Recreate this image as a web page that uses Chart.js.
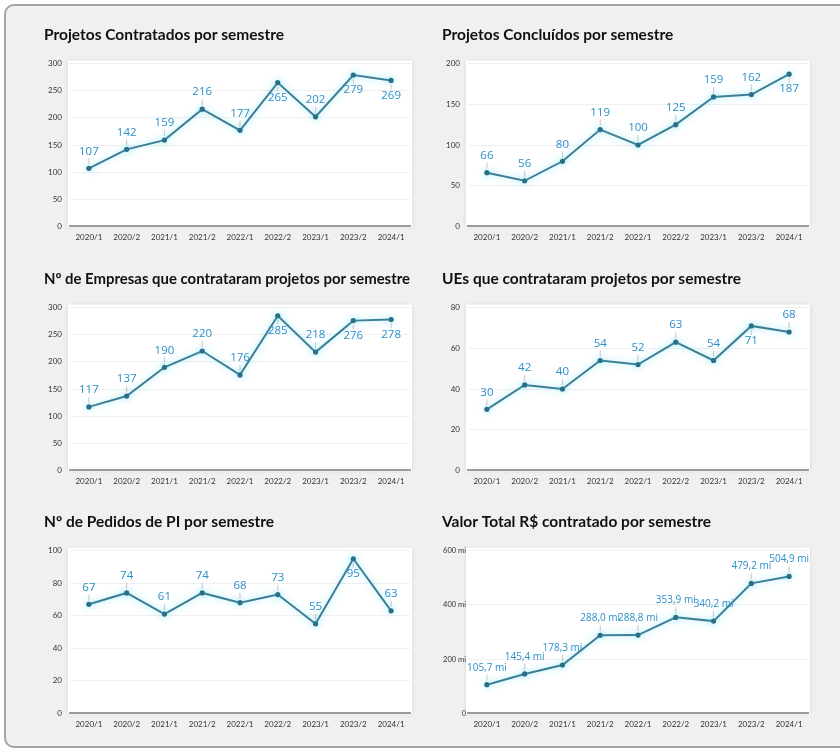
<!DOCTYPE html>
<html>
<head>
<meta charset="utf-8">
<script src="https://cdn.jsdelivr.net/npm/chart.js@4.4.0/dist/chart.umd.min.js"></script>
<style>
  body { margin: 0; background: #fff; width: 840px; height: 751px; overflow: hidden; }
  #panel { position: absolute; left: 4px; top: 4px; width: 860px; height: 740px; border: 2px solid #a3a3a3; border-radius: 10px; background: #f0f0f0; }
  .box { position: absolute; width: 385px; height: 236px; }
</style>
</head>
<body>
<div id="panel"></div>
<div class="box" style="left:40px;top:15px"><canvas id="c1" width="385" height="236"></canvas></div>
<div class="box" style="left:438px;top:15px"><canvas id="c2" width="385" height="236"></canvas></div>
<div class="box" style="left:40px;top:259px"><canvas id="c3" width="385" height="236"></canvas></div>
<div class="box" style="left:438px;top:259px"><canvas id="c4" width="385" height="236"></canvas></div>
<div class="box" style="left:40px;top:502px"><canvas id="c5" width="385" height="236"></canvas></div>
<div class="box" style="left:438px;top:502px"><canvas id="c6" width="385" height="236"></canvas></div>
<script>
const semesters = ['2020/1', '2020/2', '2021/1', '2021/2', '2022/1', '2022/2', '2023/1', '2023/2', '2024/1'];

const projetosContratados = [107, 142, 159, 216, 177, 265, 202, 279, 269];
const projetosConcluidos = [66, 56, 80, 119, 100, 125, 159, 162, 187];
const empresasContratantes = [117, 137, 190, 220, 176, 285, 218, 276, 278];
const uesContratantes = [30, 42, 40, 54, 52, 63, 54, 71, 68];
const pedidosPI = [67, 74, 61, 74, 68, 73, 55, 95, 63];
const valorTotalMi = [105.7, 145.4, 178.3, 288.0, 288.8, 353.9, 340.2, 479.2, 504.9];

Chart.defaults.font.family = 'Lato, "Noto Sans", sans-serif';

// white plot box behind the chart area
const plotBg = {
  id: 'plotBg',
  beforeDraw(chart) {
    const { ctx, chartArea: a } = chart;
    ctx.save();
    ctx.shadowColor = 'rgba(0,0,0,0.10)';
    ctx.shadowBlur = 4;
    ctx.fillStyle = '#fff';
    ctx.fillRect(a.left - 2, a.top - 3, a.width + 4, a.height + 4);
    ctx.restore();
  },
};

// soft cyan glow round the line
const glow = {
  id: 'glow',
  beforeDatasetDraw(chart) {
    chart.ctx.save();
    chart.ctx.shadowColor = 'rgba(80,215,245,0.6)';
    chart.ctx.shadowBlur = 7;
  },
  afterDatasetDraw(chart) {
    chart.ctx.restore();
  },
};

// value labels above (or below, near the top) each point
const valueLabels = {
  id: 'valueLabels',
  afterDatasetsDraw(chart, args, opts) {
    const { ctx, chartArea: a } = chart;
    const meta = chart.getDatasetMeta(0);
    const data = chart.data.datasets[0].data;
    ctx.save();
    ctx.font = opts.size + 'px "Open Sans", sans-serif';
    ctx.textAlign = 'center';
    ctx.textBaseline = 'middle';
    meta.data.forEach((pt, i) => {
      const below = pt.y - a.top < 23;
      ctx.strokeStyle = 'rgba(190,170,170,0.7)';
      ctx.lineWidth = 1;
      ctx.beginPath();
      ctx.moveTo(pt.x, pt.y + (below ? 4 : -4));
      ctx.lineTo(pt.x, pt.y + (below ? 9 : -10));
      ctx.stroke();
      ctx.fillStyle = '#2a8fca';
      ctx.fillText(opts.format(data[i]), pt.x, pt.y + (below ? 15 : -17));
    });
    ctx.restore();
  },
};

function makeChart({ id, title, values, max, step, yLabel, yFont, yPad, label, labelSize }) {
  return new Chart(document.getElementById(id), {
    type: 'line',
    data: {
      labels: semesters,
      datasets: [
        {
          data: values,
          borderColor: '#3c7f94',
          borderWidth: 2,
          pointRadius: 2.6,
          pointBorderWidth: 0,
          pointBackgroundColor: '#296f88',
          tension: 0,
        },
      ],
    },
    options: {
      responsive: false,
      animation: false,
      layout: { padding: { left: 4, right: 15, bottom: 3 } },
      scales: {
        x: {
          offset: true,
          grid: { display: false, drawTicks: false },
          border: { color: '#9a9a9a', width: 2 },
          ticks: { color: '#333', font: { size: 8 }, padding: 6, maxRotation: 0, autoSkip: false },
        },
        y: {
          min: 0,
          max,
          grid: { color: '#efefef', drawTicks: false },
          border: { display: false },
          ticks: { stepSize: step, color: '#333', font: { size: yFont || 8 }, padding: yPad || 8, callback: yLabel },
          afterFit(scale) {
            scale.width = 26;
          },
        },
      },
      plugins: {
        legend: { display: false },
        tooltip: { enabled: false },
        title: {
          display: true,
          text: title,
          align: 'start',
          color: '#111',
          font: { size: 15.5, weight: 'bold' },
          padding: { top: 11, bottom: 19 },
        },
        valueLabels: { size: labelSize || 11.5, format: label || ((v) => String(v)) },
      },
    },
    plugins: [plotBg, glow, valueLabels],
  });
}

makeChart({ id: 'c1', title: 'Projetos Contratados por semestre', values: projetosContratados, max: 300, step: 50 });
makeChart({ id: 'c2', title: 'Projetos Concluídos por semestre', values: projetosConcluidos, max: 200, step: 50 });
makeChart({ id: 'c3', title: 'Nº de Empresas que contrataram projetos por semestre', values: empresasContratantes, max: 300, step: 50 });
makeChart({ id: 'c4', title: 'UEs que contrataram projetos por semestre', values: uesContratantes, max: 80, step: 20 });
makeChart({ id: 'c5', title: 'Nº de Pedidos de PI por semestre', values: pedidosPI, max: 100, step: 20 });
makeChart({
  id: 'c6',
  title: 'Valor Total R$ contratado por semestre',
  values: valorTotalMi,
  max: 600,
  step: 200,
  yLabel: (v) => (v ? v + ' mi' : v),
  yFont: 7.5,
  yPad: 2,
  label: (v) => v.toFixed(1).replace('.', ',') + ' mi',
  labelSize: 10,
});
</script>
</body>
</html>
